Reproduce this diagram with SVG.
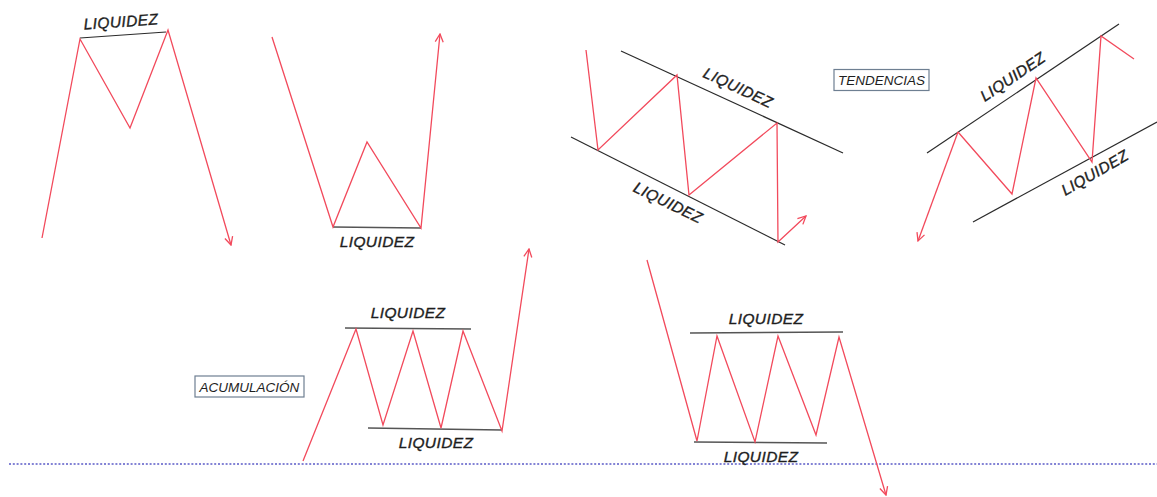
<svg xmlns="http://www.w3.org/2000/svg" width="1157" height="497" viewBox="0 0 1157 497">
<style>
.r{fill:none;stroke:#f24a5c;stroke-width:1.3;stroke-linejoin:miter}
.k{fill:none;stroke:#2a2a2a;stroke-width:1.2}
.g{fill:none;stroke:#555;stroke-width:1.6}
.t{font-family:"Liberation Sans",Arial,sans-serif;font-style:italic;font-size:15.5px;letter-spacing:0.4px;fill:#1e1e1e;text-anchor:middle;stroke:#1e1e1e;stroke-width:0.35}
.bx{fill:#fff;stroke:#6e7f92;stroke-width:1.2}
.bt{font-family:"Liberation Sans",Arial,sans-serif;font-style:italic;font-size:13.5px;fill:#1e1e1e;text-anchor:middle}
</style>
<defs>
<marker id="a" viewBox="0 0 10 10" refX="9" refY="5" markerWidth="10" markerHeight="10" markerUnits="userSpaceOnUse" orient="auto">
<path d="M1,1 L9,5 L1,9" fill="none" stroke="#f24a5c" stroke-width="1.3"/>
</marker>
</defs>
<rect width="1157" height="497" fill="#fff"/>
<g id="connectors">
<line x1="9" y1="464" x2="1157" y2="464" stroke="#5b5bc8" stroke-width="1.6" stroke-dasharray="2 1.8"/>
</g>
<g id="m-pattern">
<line class="k" x1="80" y1="38" x2="166" y2="32"/>
<text class="t" x="121" y="27" transform="rotate(-4 121 22)">LIQUIDEZ</text>
<polyline class="r" points="42,238 80,39 130,128 168,30 231,245" marker-end="url(#a)"/>
</g>
<g id="w-pattern">
<line class="g" x1="333" y1="227" x2="421" y2="228"/>
<text class="t" x="377" y="247">LIQUIDEZ</text>
<polyline class="r" points="272,37 333,227 367,142 421,228 440,34" marker-end="url(#a)"/>
</g>
<g id="bear-channel">
<line class="k" x1="621" y1="51" x2="843" y2="153"/>
<line class="k" x1="571" y1="137" x2="785" y2="245"/>
<text class="t" x="738" y="93" transform="rotate(25 738 88)">LIQUIDEZ</text>
<text class="t" x="668" y="208" transform="rotate(26 668 203)">LIQUIDEZ</text>
<polyline class="r" points="586,50 598,150 677,75 689,195 777,123 778,242 806,216" marker-end="url(#a)"/>
</g>
<g id="tendencias">
<rect class="bx" x="834" y="69.5" width="95" height="21"/>
<text class="bt" x="881.5" y="85">TENDENCIAS</text>
</g>
<g id="bull-channel">
<line class="k" x1="927" y1="153" x2="1119" y2="24"/>
<line class="k" x1="973" y1="222" x2="1157" y2="122"/>
<text class="t" x="1013" y="82" transform="rotate(-34 1013 77)">LIQUIDEZ</text>
<text class="t" x="1095" y="178" transform="rotate(-30 1095 173)">LIQUIDEZ</text>
<polyline class="r" points="958,132 1012,194 1036,78 1092,162 1101,36 1134,59"/>
<line class="r" x1="958" y1="132" x2="918" y2="241" marker-end="url(#a)"/>
</g>
<g id="acumulacion">
<rect class="bx" x="195" y="376" width="109" height="21"/>
<text class="bt" x="249.5" y="391.5">ACUMULACIÓN</text>
</g>
<g id="accumulation-range">
<line class="g" x1="345" y1="328" x2="471" y2="329"/>
<line class="g" x1="368" y1="428" x2="502" y2="430"/>
<text class="t" x="408" y="318">LIQUIDEZ</text>
<text class="t" x="436" y="448">LIQUIDEZ</text>
<polyline class="r" points="303,461 356,329 383,425 413,331 441,428 463,331 502,431 529,249" marker-end="url(#a)"/>
</g>
<g id="distribution-range">
<line class="g" x1="690" y1="333" x2="843" y2="332"/>
<line class="g" x1="694" y1="442" x2="827" y2="443"/>
<text class="t" x="766" y="324">LIQUIDEZ</text>
<text class="t" x="761" y="462">LIQUIDEZ</text>
<polyline class="r" points="647,260 697,441 717,336 755,442 778,336 816,435 839,337 886,495" marker-end="url(#a)"/>
</g>
</svg>
